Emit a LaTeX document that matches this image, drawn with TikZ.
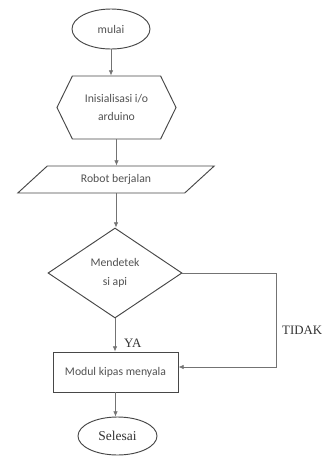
\documentclass[tikz,border=0pt]{standalone}
\usepackage{fontspec}
\setmainfont{Liberation Serif}
\newfontfamily\calibfont{Carlito}
\usepackage{tikz}
\usetikzlibrary{positioning, shapes.geometric, shapes.symbols, arrows.meta}
\colorlet{edge}{black!72}
\colorlet{flowline}{black!55}
\colorlet{boxtext}{black!68}
\colorlet{lbltext}{black!80}
\tikzset{
  blk/.style      ={draw=edge, fill=white, line width=0.8pt, align=center,
                    font=\calibfont\fontsize{10}{16}\selectfont, text=boxtext,
                    inner sep=0pt},
  terminal/.style ={blk, ellipse},
  prep/.style     ={blk, signal, signal to=east and west,
                    signal pointer angle=128},
  io/.style       ={blk, trapezium, trapezium left angle=34,
                    trapezium right angle=146, trapezium stretches=true},
  decide/.style   ={blk, diamond},
  process/.style  ={blk, rectangle},
  flow/.style     ={-{Latex[length=4.5pt, width=3.8pt]}, flowline,
                    line width=0.6pt},
  branch/.style   ={font=\fontsize{11}{13}\selectfont, text=lbltext},
}

\begin{document}
\begin{tikzpicture}[x=0.03cm, y=-0.03cm]
\useasboundingbox (0,0) rectangle (324,463);

% --- blocks ---
\node[terminal, minimum width=2.34cm, minimum height=1.2cm]
  (mulai) at (111, 29) {mulai};

\node[prep, minimum width=3.57cm, minimum height=1.89cm]
  (init) at (116.5, 107.5) {Inisialisasi i/o\\arduino};

\node[io, minimum width=5.94cm, minimum height=0.81cm]
  (robot) at (116, 179.5) {Robot berjalan};

\node[decide, minimum width=4.02cm, minimum height=2.7cm]
  (cek) at (115, 273) {Mendetek\\si api};

\node[process, minimum width=3.75cm, minimum height=1.2cm]
  (kipas) at (115.5, 372) {Modul kipas menyala};

\node[terminal, minimum width=2.37cm, minimum height=1.14cm,
      font=\fontsize{11.5}{13}\selectfont, text=lbltext]
  (selesai) at (117.5, 436) {Selesai};

% --- flow ---
\coordinate (tidakR) at (276, 273);

\draw[flow] (mulai.south) -- (mulai.south |- init.north);
\draw[flow] (init.south)  -- (init.south |- robot.north);
\draw[flow] (robot.south) -- (robot.south |- cek.north);
\draw[flow] (cek.south)   -- (cek.south |- kipas.north);
\draw[flow] (kipas.south) -- (kipas.south |- selesai.north);
\draw[flow] (cek.east) -- (tidakR) |- ([yshift=0.15cm]kipas.east);

% --- branch labels ---
\node[branch, anchor=west] (ya)    at (120, 343) {YA};
\node[branch, anchor=west] (tidak) at (278, 330) {TIDAK};

\end{tikzpicture}
\end{document}
